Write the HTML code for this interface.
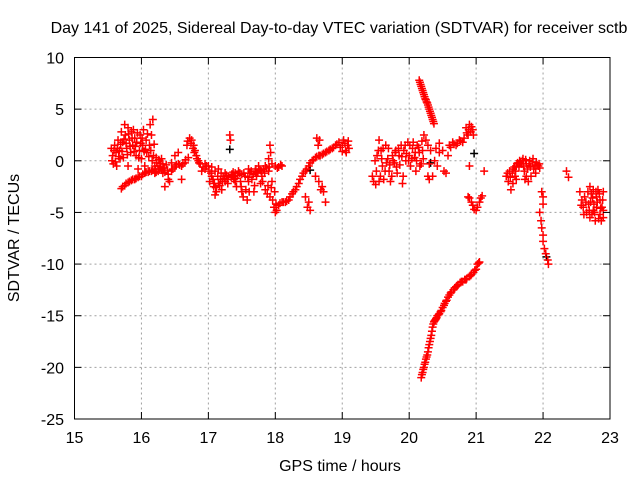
<!DOCTYPE html>
<html><head><meta charset="utf-8"><style>
body{margin:0;background:#fff;}
svg{display:block;font-family:"Liberation Sans",sans-serif;}
</style></head><body>
<svg id="chart" width="640" height="480">
<text x="339" y="33" font-size="16" text-anchor="middle">Day 141 of 2025, Sidereal Day-to-day VTEC variation (SDTVAR) for receiver sctb</text>
<text x="340" y="471" font-size="16" text-anchor="middle">GPS time / hours</text>
<text x="19" y="238" font-size="16" text-anchor="middle" transform="rotate(-90 19 238)">SDTVAR / TECUs</text>
<g id="grid"></g>
<g id="marks"></g>
<rect x="74.5" y="57.5" width="535.5" height="361.5" fill="none" stroke="#000" stroke-width="1"/>
<g id="ticks"></g>
</svg>
<script>
const xTicks=[15,16,17,18,19,20,21,22,23];
const yTicks=[10,5,0,-5,-10,-15,-20,-25];
const seriesRed=[
[15.55,1.2],[15.57,0.5],[15.58,-0.3],[15.6,1.5],[15.62,0.8],[15.63,-0.5],[15.65,2.0],[15.67,1.0],[15.68,0.2],[15.7,2.8],[15.72,1.8],[15.73,0.3],[15.75,3.5],[15.76,2.5],[15.78,1.2],[15.8,-0.5],[15.8,3.2],[15.82,2.0],[15.84,0.8],[15.85,2.8],[15.87,1.5],[15.88,3.0],[15.9,2.2],[15.92,0.5],[15.93,1.8],[15.95,-0.8],[15.97,1.0],[15.98,2.5],[16.0,0.2],[16.02,1.5],[16.03,3.0],[16.05,-0.5],[16.07,2.0],[16.08,0.8],[16.1,-1.0],[16.12,1.5],[16.13,3.5],[16.15,2.5],[16.17,4.0],[16.18,0.5],[16.2,-0.5],[16.22,0.3],[16.25,-0.8],[16.28,-0.3],[16.3,0.2],
[15.7,-2.7],[15.75,-2.4],[15.8,-2.1],[15.85,-1.9],[15.9,-1.8],[15.95,-1.6],[16.0,-1.5],[16.05,-1.2],[16.1,-1.1],[16.15,-1.0],[16.2,-1.2],[16.25,-1.0],[16.3,-0.9],[16.35,-1.1],[16.4,-1.3],[16.45,-1.0],[16.5,-0.6],[16.55,-0.3],[16.6,-0.5],[16.65,-0.2],[16.7,0.3],[16.68,1.5],[16.72,2.2],[16.75,2.0],[16.78,1.5],[16.8,1.0],[16.82,0.5],[16.85,0.0],[16.88,-0.3],[16.9,-1.0],[16.95,-0.8],[16.5,0.5],[16.45,-0.2],[16.4,-1.8],[16.35,-2.5],[16.42,-2.0],[16.55,0.8],[16.6,-1.8],
[17.0,-0.5],[17.02,-2.0],[17.05,-1.5],[17.08,-2.5],[17.1,-1.0],[17.12,-3.0],[17.15,-2.2],[17.18,-1.8],[17.2,-2.8],[17.22,-1.5],[17.25,-2.0],[17.28,-1.8],[17.3,-1.5],[17.32,2.5],[17.33,2.0],[17.35,-1.3],[17.38,-1.8],[17.4,-1.2],[17.42,-2.5],[17.45,-1.0],[17.48,-2.0],[17.5,-3.0],[17.52,-3.5],[17.55,-1.5],[17.58,-3.8],[17.6,-2.0],[17.62,-1.2],[17.65,-1.8],[17.68,-3.0],[17.7,-1.0],[17.72,-1.5],[17.75,-0.5],[17.78,-2.2],[17.8,-1.5],[17.82,-0.8],[17.85,-2.8],[17.88,-3.2],[17.9,-1.0],[17.92,-3.5],[17.95,-2.0],[17.98,-4.5],[18.0,-5.0],[18.02,-4.8],[18.05,-4.3],[18.1,-4.0],[18.15,-4.0],[18.2,-3.8],[18.25,-3.2],[18.3,-2.8],[18.35,-2.2],[18.4,-1.5],[18.45,-1.0],[18.5,-0.5],[18.55,0.0],[18.6,0.3],[18.65,0.5],[18.7,0.6],[18.75,0.8],[18.8,1.0],[18.85,1.2],[18.9,1.5],[18.95,1.8],[19.0,1.5],[19.02,2.0],[19.05,1.0],[19.08,1.5],[19.1,1.2],
[16.95,-0.3],[17.05,-0.6],[17.15,-0.8],[17.6,-0.8],[17.7,-1.2],[17.85,-0.5],[17.9,0.2],[17.95,-0.3],[18.0,-0.5],[18.05,-0.6],[18.1,-0.5],[17.92,1.5],[17.93,0.8],[17.5,-1.3],[17.4,-2.0],[17.25,-1.2],[17.1,-3.3],
[18.45,-3.5],[18.48,-4.5],[18.5,-4.0],[18.52,-4.8],[18.62,2.2],[18.64,1.5],[18.66,2.0],[18.6,-1.5],[18.65,-2.0],[18.68,-2.8],[18.72,-3.0],[18.75,-4.0],[18.7,-2.5],
[19.45,-1.5],[19.5,-2.3],[19.52,0.5],[19.55,-2.0],[19.55,2.0],[19.58,1.0],[19.6,-0.5],[19.62,-1.8],[19.65,1.5],[19.68,0.2],[19.7,-1.0],[19.72,-2.0],[19.75,0.5],[19.78,-0.2],[19.8,1.0],[19.82,-1.2],[19.85,0.5],[19.88,1.5],[19.9,-2.2],[19.92,1.0],[19.95,0.0],[19.98,1.8],[20.0,0.5],[20.02,-0.5],[20.05,1.2],[20.08,0.3],[20.1,-1.0],[20.12,1.5],[20.15,0.8],[20.18,-0.3],[20.2,1.0],[20.22,2.5],
[20.25,2.0],[20.28,1.5],[20.3,-0.3],[20.32,1.0],[20.35,-1.5],[20.38,0.0],[20.4,1.2],[20.42,-0.5],[20.45,0.8],[20.5,1.0],[20.52,-1.0],[20.55,-1.2],[20.58,0.5],[20.6,1.5],[20.65,1.8],[20.7,1.5],[20.75,2.0],[20.8,1.8],[20.85,3.2],[20.88,2.5],[20.9,3.5],[20.92,2.8],[20.95,3.0],[20.9,-0.5],[20.3,-1.8],[20.28,-1.5],[20.45,1.7],
[20.15,7.8],[20.17,7.4],[20.19,7.0],[20.21,6.6],[20.23,6.2],[20.25,5.9],[20.27,5.6],[20.29,5.2],[20.31,4.8],[20.33,4.4],[20.35,4.0],[20.37,3.6],
[20.18,-21.0],[20.2,-20.5],[20.22,-20.0],[20.24,-19.5],[20.26,-19.0],[20.28,-18.5],[20.3,-17.8],[20.32,-17.2],[20.34,-16.5],[20.36,-15.8],[20.38,-15.5],[20.4,-15.3],[20.42,-15.0],[20.45,-14.8],[20.48,-14.5],[20.5,-14.2],[20.53,-13.8],[20.56,-13.5],[20.6,-13.0],[20.63,-12.7],[20.66,-12.5],[20.7,-12.2],[20.73,-12.0],[20.76,-11.8],[20.8,-11.7],[20.83,-11.5],[20.86,-11.4],[20.9,-11.2],[20.93,-11.0],[20.96,-10.8],[21.0,-10.5],[21.02,-10.0],[21.05,-9.8],
[20.88,-3.5],[20.9,-3.6],[20.93,-4.0],[20.95,-4.3],[20.97,-4.7],[21.0,-4.8],[21.02,-4.5],[21.05,-4.0],[21.07,-3.6],[21.09,-3.4],[21.12,-1.0],
[21.45,-1.5],[21.48,-2.0],[21.5,-1.0],[21.52,-2.8],[21.55,-0.8],[21.58,-1.5],[21.6,-0.5],[21.62,-0.2],[21.65,0.0],[21.68,-0.3],[21.7,0.2],[21.72,-1.0],[21.75,-0.3],[21.78,-2.0],[21.8,0.0],[21.82,-1.5],[21.85,0.2],[21.88,-0.5],[21.9,-0.2],[21.93,-0.5],[21.95,-0.7],[21.55,-2.2],[21.75,-1.5],
[21.98,-3.0],[22.0,-3.5],[22.0,-4.2],[21.95,-5.0],[21.97,-5.8],[21.98,-6.5],[22.0,-7.2],[22.0,-7.8],[22.02,-8.5],[22.04,-9.0],[22.07,-9.6],[22.08,-10.0],
[22.35,-1.0],[22.38,-1.6],
[22.55,-3.0],[22.58,-3.8],[22.6,-4.5],[22.62,-3.5],[22.65,-5.0],[22.68,-4.2],[22.7,-2.5],[22.7,-5.5],[22.72,-3.2],[22.75,-4.8],[22.75,-2.8],[22.78,-5.8],[22.8,-3.5],[22.8,-4.5],[22.82,-2.8],[22.85,-5.2],[22.85,-3.8],[22.88,-4.5],[22.9,-3.0],[22.9,-5.5]
];
const seriesRedExtra=[
[15.56,0.0],[15.59,1.0],[15.61,-0.1],[15.64,1.2],[15.66,0.4],[15.69,1.6],[15.71,0.9],[15.74,2.1],[15.77,1.7],[15.79,0.6],[15.81,2.6],[15.83,1.4],[15.86,2.2],[15.89,0.9],[15.91,1.4],[15.94,2.7],[15.96,0.3],[15.99,1.7],[16.01,2.2],[16.04,0.9],[16.06,1.1],[16.09,2.6],[16.11,0.4],[16.14,1.0],[16.16,0.0],[16.19,1.6],[16.21,-0.8],[16.23,-0.2],[16.26,0.1],[16.29,-0.6],[16.32,-0.3],[16.34,-0.7],[16.37,-0.4],[16.39,-0.9],
[15.72,-2.5],[15.77,-2.2],[15.82,-2.0],[15.87,-1.8],[15.92,-1.7],[15.97,-1.5],[16.02,-1.3],[16.07,-1.1],[16.12,-1.0],[16.17,-0.9],[16.22,-1.1],[16.27,-0.8],[16.32,-1.2],[16.47,-0.8],[16.52,-0.4],[16.57,-0.4],[16.62,-0.3],[16.66,0.1],[16.69,1.9],[16.74,1.7],[16.77,1.2],[16.79,0.8],[16.83,0.2],[16.86,-0.2],[16.92,-0.6],[16.97,-0.5],
[17.01,-1.0],[17.04,-1.2],[17.07,-1.8],[17.09,-2.2],[17.11,-2.6],[17.14,-1.5],[17.17,-2.4],[17.19,-1.2],[17.21,-2.0],[17.24,-1.7],[17.27,-1.4],[17.29,-2.2],[17.34,-1.6],[17.37,-1.1],[17.39,-1.5],[17.41,-1.7],[17.44,-1.4],[17.47,-1.2],[17.49,-2.5],[17.53,-1.2],[17.56,-2.8],[17.59,-1.6],[17.61,-3.0],[17.64,-1.0],[17.67,-1.3],[17.69,-2.4],[17.71,-0.8],[17.74,-1.1],[17.77,-0.9],[17.79,-1.0],[17.81,-2.0],[17.84,-1.2],[17.87,-0.7],[17.89,-2.4],[17.91,-0.6],[17.94,-2.6],[17.96,-3.8],[17.99,-3.0],[18.01,-4.2],[18.03,-0.7],[18.07,-4.1],[18.08,-0.4],[18.12,-4.0],[18.17,-3.9],[18.22,-3.5],[18.27,-3.0],[18.32,-2.5],[18.37,-1.8],[18.42,-1.2],[18.47,-0.8],[18.52,-0.2],[18.57,0.1],[18.62,0.4],[18.67,0.5],[18.72,0.7],[18.77,0.9],[18.82,1.1],[18.87,1.3],[18.92,1.6],[18.97,1.3],[19.04,1.7],[19.06,0.8],[19.09,1.9],[19.0,0.9],
[19.47,-2.0],[19.49,0.0],[19.51,-1.0],[19.54,1.0],[19.57,-1.5],[19.59,0.2],[19.61,1.2],[19.64,-1.0],[19.66,-0.2],[19.69,1.2],[19.71,-0.4],[19.74,-1.5],[19.76,0.0],[19.79,0.8],[19.81,-0.6],[19.84,1.2],[19.86,-0.4],[19.89,0.4],[19.91,-1.5],[19.94,1.5],[19.96,0.7],[19.99,0.0],[20.01,1.5],[20.04,0.2],[20.06,1.8],[20.09,0.8],[20.11,0.0],[20.14,1.3],[20.16,-0.5],[20.19,1.9],[20.21,0.2],
[20.16,7.6],[20.18,7.2],[20.2,6.8],[20.22,6.4],[20.24,6.0],[20.26,5.7],[20.28,5.4],[20.3,5.0],[20.32,4.6],[20.34,4.2],[20.36,3.8],
[20.19,-20.7],[20.21,-20.2],[20.23,-19.7],[20.25,-19.2],[20.27,-18.8],[20.29,-18.1],[20.31,-17.5],[20.33,-16.9],[20.35,-16.1],[20.37,-15.6],[20.39,-15.4],[20.41,-15.2],[20.44,-14.9],[20.47,-14.6],[20.52,-14.0],[20.55,-13.6],[20.58,-13.2],[20.62,-12.8],[20.68,-12.3],[20.72,-12.1],[20.78,-11.7],[20.85,-11.5],[20.92,-11.1],[20.98,-10.6],[21.04,-9.9],
[20.62,1.3],[20.67,1.6],[20.72,1.7],[20.77,1.9],[20.82,2.2],[20.86,2.7],[20.89,3.0],[20.93,3.3],[20.96,2.5],
[21.47,-1.2],[21.51,-1.6],[21.54,-1.2],[21.57,-0.6],[21.59,-1.0],[21.61,-0.3],[21.64,-0.6],[21.66,-0.1],[21.69,0.0],[21.71,-0.5],[21.74,0.1],[21.77,-0.8],[21.79,-0.3],[21.81,-0.6],[21.84,-0.1],[21.86,-0.8],[21.89,-1.2],[21.91,-0.4],[21.94,-0.3],[21.6,-1.8],[21.73,-1.8],
[22.57,-4.3],[22.61,-5.2],[22.64,-4.0],[22.67,-3.0],[22.69,-4.8],[22.71,-4.0],[22.73,-5.2],[22.74,-3.6],[22.76,-4.2],[22.77,-5.0],[22.79,-3.0],[22.81,-4.0],[22.83,-5.6],[22.84,-3.2],[22.86,-4.6],[22.87,-5.8],[22.89,-3.8],[22.9,-4.8]
];
const seriesBlack=[[17.32,1.1],[20.97,0.7],[22.05,-9.3],[20.32,-0.2],[18.52,-0.9]];

const NS='http://www.w3.org/2000/svg';
const X0=74.5,X1=610,Y0=419,Y1=57.5;
function xs(t){return X0+(t-15)/(23-15)*(X1-X0);}
function ys(v){return Y0-(v+25)/35*(Y0-Y1);}
const grid=document.getElementById('grid'),ticks=document.getElementById('ticks'),marks=document.getElementById('marks');
function mk(tag,at,parent){const e=document.createElementNS(NS,tag);for(const k in at)e.setAttribute(k,at[k]);parent.appendChild(e);return e;}
xTicks.forEach(t=>{const x=xs(t);
 if(t>15&&t<23){const g=mk('line',{x1:x,x2:x,y1:Y1,y2:Y0,stroke:'#a0a0a0','stroke-dasharray':'2,3'},grid);
 
 }
 mk('line',{x1:x,x2:x,y1:Y0,y2:Y0-7,stroke:'#000'},ticks);
 mk('line',{x1:x,x2:x,y1:Y1,y2:Y1+7,stroke:'#000'},ticks);
 const l=mk('text',{x:x,y:443,'font-size':16,'text-anchor':'middle'},ticks);l.textContent=t;
 
 });
yTicks.forEach(v=>{const y=ys(v);
 if(v<10&&v>-25){const g=mk('line',{x1:X0,x2:X1,y1:y,y2:y,stroke:'#a0a0a0','stroke-dasharray':'2,3'},grid);
 
 }
 mk('line',{x1:X0,x2:X0+7,y1:y,y2:y,stroke:'#000'},ticks);
 mk('line',{x1:X1,x2:X1-7,y1:y,y2:y,stroke:'#000'},ticks);
 const l=mk('text',{x:64,y:y+6,'font-size':16,'text-anchor':'end'},ticks);l.textContent=v;
 
 });
function plot(arr,color,name){let d='';arr.forEach(p=>{const x=xs(p[0]),y=ys(p[1]);d+=`M${x-4} ${y}h8M${x} ${y-4}v8`;});
 const e=mk('path',{d:d,stroke:color,'stroke-width':1.5,fill:'none'},marks);
 
 }
plot(seriesBlack,'#000','series-black-points');
plot(seriesRed,'#f00','series-red-points');
plot(seriesRedExtra,'#f00','series-red-points-extra');
</script>
</body></html>
